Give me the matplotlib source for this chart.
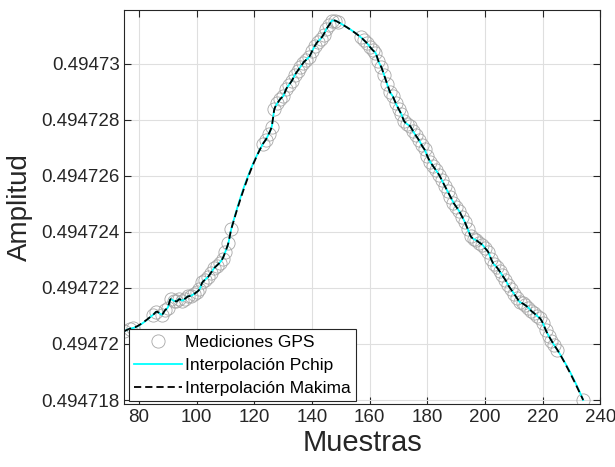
import numpy as np
import matplotlib
matplotlib.use('Agg')
import matplotlib.pyplot as plt
from matplotlib.ticker import FixedLocator, FixedFormatter

plt.rcParams['font.family'] = ['Liberation Sans', 'DejaVu Sans']

# Muestras con medición GPS
muestras = [75, 77, 78,
            85, 86, 88, 89, 90, 91, 92, 93, 94, 95, 96, 97, 98, 99, 100,
            101, 102, 103, 104, 105, 106, 107, 108, 109, 110, 111, 112,
            123, 124, 125, 126, 127, 128, 129, 130, 131, 132, 133, 134, 135,
            136, 137, 138, 139, 140, 141, 142, 143, 144, 145, 146, 147, 148, 149,
            157, 158, 159, 160, 161, 162, 163, 164, 165, 166, 167, 168, 169, 170,
            171, 172, 173, 174, 175, 176, 177, 178, 179, 180, 181, 182, 183, 184,
            185, 186, 187, 188, 189, 190, 191, 192, 193, 194, 195, 196, 197, 198,
            199, 200, 201, 202, 203, 204, 205, 206, 207, 208, 209, 210, 211, 212,
            213, 214, 215, 216, 217, 218, 219, 220, 221, 222, 223, 224, 225,
            234]

amplitud = [0.49472046, 0.49472055, 0.49472057,
            0.49472105, 0.49472115, 0.49472105, 0.49472120, 0.49472130,
            0.49472160, 0.49472155, 0.49472152, 0.49472160, 0.49472155,
            0.49472162, 0.49472170, 0.49472172, 0.49472178, 0.49472185,
            0.49472195, 0.49472220, 0.49472230, 0.49472240, 0.49472255,
            0.49472270, 0.49472280, 0.49472290, 0.49472305, 0.49472330,
            0.49472360, 0.49472410,
            0.49472715, 0.49472730, 0.49472750, 0.49472775, 0.49472840,
            0.49472860, 0.49472875, 0.49472885, 0.49472910, 0.49472925,
            0.49472940, 0.49472960, 0.49472975, 0.49472990, 0.49473005,
            0.49473015, 0.49473025, 0.49473045, 0.49473065, 0.49473080,
            0.49473090, 0.49473105, 0.49473125, 0.49473140, 0.49473155,
            0.49473155, 0.49473150,
            0.49473095, 0.49473085, 0.49473075, 0.49473062, 0.49473050,
            0.49473040, 0.49473010, 0.49472990, 0.49472960, 0.49472930,
            0.49472900, 0.49472885, 0.49472860, 0.49472840, 0.49472820,
            0.49472795, 0.49472785, 0.49472778, 0.49472760, 0.49472745,
            0.49472730, 0.49472710, 0.49472695, 0.49472670, 0.49472650,
            0.49472635, 0.49472620, 0.49472605, 0.49472585, 0.49472565,
            0.49472545, 0.49472525, 0.49472505, 0.49472490, 0.49472475,
            0.49472455, 0.49472435, 0.49472410, 0.49472385, 0.49472375,
            0.49472370, 0.49472362, 0.49472355, 0.49472342, 0.49472330,
            0.49472305, 0.49472285, 0.49472275, 0.49472260, 0.49472245,
            0.49472230, 0.49472210, 0.49472195, 0.49472180, 0.49472165,
            0.49472150, 0.49472145, 0.49472138, 0.49472130, 0.49472118,
            0.49472110, 0.49472100, 0.49472092, 0.49472075, 0.49472050,
            0.49472030, 0.49472012, 0.49471995, 0.49471980,
            0.49471800]

xticks = [80, 100, 120, 140, 160, 180, 200, 220, 240]
yticks = [0.494718, 0.494720, 0.494722, 0.494724, 0.494726, 0.494728, 0.494730]
ytick_labels = ['0.494718', '0.49472', '0.494722', '0.494724', '0.494726', '0.494728', '0.49473']


def pchip_slopes(x, y):
    h = np.diff(x)
    d = np.diff(y) / h
    n = len(x)
    m = np.zeros(n)
    for k in range(1, n - 1):
        if d[k - 1] * d[k] > 0:
            w1 = 2 * h[k] + h[k - 1]
            w2 = h[k] + 2 * h[k - 1]
            m[k] = (w1 + w2) / (w1 / d[k - 1] + w2 / d[k])

    def end(h0, h1, d0, d1):
        s = ((2 * h0 + h1) * d0 - h0 * d1) / (h0 + h1)
        if np.sign(s) != np.sign(d0):
            s = 0.0
        elif np.sign(d0) != np.sign(d1) and abs(s) > abs(3 * d0):
            s = 3 * d0
        return s
    m[0] = end(h[0], h[1], d[0], d[1])
    m[-1] = end(h[-1], h[-2], d[-1], d[-2])
    return m


def makima_slopes(x, y):
    d = np.diff(y) / np.diff(x)
    dm1 = 2 * d[0] - d[1]
    dm2 = 2 * dm1 - d[0]
    dp1 = 2 * d[-1] - d[-2]
    dp2 = 2 * dp1 - d[-1]
    e = np.concatenate([[dm2, dm1], d, [dp1, dp2]])
    m = np.zeros(len(x))
    for i in range(len(x)):
        a, b, c, f = e[i], e[i + 1], e[i + 2], e[i + 3]
        w1 = abs(f - c) + abs(f + c) / 2
        w2 = abs(b - a) + abs(b + a) / 2
        if w1 + w2 == 0:
            m[i] = 0.0
        else:
            m[i] = (w1 * b + w2 * c) / (w1 + w2)
    return m


def hermite(x, y, m, pts=20):
    xs, ys = [], []
    for i in range(len(x) - 1):
        h = x[i + 1] - x[i]
        t = np.linspace(0, 1, pts, endpoint=False)
        h00 = 2 * t**3 - 3 * t**2 + 1
        h10 = t**3 - 2 * t**2 + t
        h01 = -2 * t**3 + 3 * t**2
        h11 = t**3 - t**2
        xs.append(x[i] + t * h)
        ys.append(h00 * y[i] + h10 * h * m[i] + h01 * y[i + 1] + h11 * h * m[i + 1])
    xs.append([x[-1]])
    ys.append([y[-1]])
    return np.concatenate(xs), np.concatenate(ys)


x = np.array(muestras, dtype=float)
y = np.array(amplitud)
y0 = y.mean()
xp, yp = hermite(x, y - y0, pchip_slopes(x, y - y0))
xm, ym = hermite(x, y - y0, makima_slopes(x, y - y0))

fig = plt.figure(figsize=(6.15, 4.67), dpi=100)
ax = fig.add_axes([0.2024, 0.1349, 0.7740, 0.8437])

ax.plot(x, y, 'o', mfc='none', mec='#a6a6a6', ms=9.5, mew=0.6, label='Mediciones GPS')
ax.plot(xp, yp + y0, '-', color='#00ffff', lw=1.3, label='Interpolación Pchip')
ax.plot(xm, ym + y0, '--', color='black', lw=1.3, dashes=(4, 2.2), label='Interpolación Makima')

ax.set_xlim(75, 240)
ax.set_ylim(0.4947178571, 0.4947319286)
ax.xaxis.set_major_locator(FixedLocator(xticks))
ax.yaxis.set_major_locator(FixedLocator(yticks))
ax.yaxis.set_major_formatter(FixedFormatter(ytick_labels))

ax.grid(True, color='#dfdfdf', lw=0.8)
ax.set_axisbelow(True)
ax.tick_params(direction='in', top=True, right=True, labelsize=13.5,
               colors='#262626', length=5, width=0.8)
for s in ax.spines.values():
    s.set_color('#262626')
    s.set_linewidth(0.8)

ax.set_xlabel('Muestras', fontsize=21, color='#262626', labelpad=2)
ax.set_ylabel('Amplitud', fontsize=20, color='#262626', labelpad=6)

leg = ax.legend(loc='lower left', bbox_to_anchor=(0.009, 0.008), borderaxespad=0,
                fancybox=False, framealpha=1, edgecolor='#262626', fontsize=12.5,
                handlelength=2.75, handletextpad=0.2, labelspacing=0.45,
                borderpad=0.3)
leg.get_frame().set_linewidth(0.8)

plt.savefig('out.png', dpi=100)
